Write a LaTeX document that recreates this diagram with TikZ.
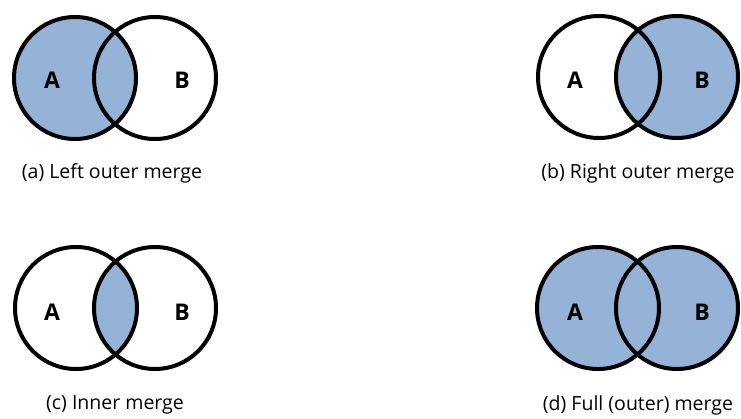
\documentclass[tikz,border=0pt]{standalone}
\usepackage{fontspec}
\setmainfont{Open Sans}
\definecolor{setfill}{HTML}{95B3D7}
\tikzset{
  setline/.style={line width=4pt, draw=black},
  setlabel/.style={font=\fontsize{23}{26}\selectfont\bfseries, inner sep=0pt},
  caption/.style={font=\fontsize{19.5}{23}\selectfont, inner sep=0pt}
}
\begin{document}
\begin{tikzpicture}[x=1pt, y=-1pt]
\useasboundingbox (0,0) rectangle (741,418);
\def\rr{61}

% (a) left outer merge
\fill[setfill] (75,78) circle (\rr);
\draw[setline] (75,78) circle (\rr);
\draw[setline] (155,78) circle (\rr);
\node[setlabel] (a1) at (52,80) {A};
\node[setlabel] (b1) at (182,80) {B};
\node[caption] (capa) at (112,173) {(a) Left outer merge};

% (b) right outer merge
\fill[setfill] (677,77) circle (\rr);
\draw[setline] (599,77) circle (\rr);
\draw[setline] (677,77) circle (\rr);
\node[setlabel] (a2) at (575,80) {A};
\node[setlabel] (b2) at (702,80) {B};
\node[caption] (capb) at (638,173) {(b) Right outer merge};

% (c) inner merge
\begin{scope}
  \clip (76,308) circle (\rr);
  \fill[setfill] (155,308) circle (\rr);
\end{scope}
\draw[setline] (76,308) circle (\rr);
\draw[setline] (155,308) circle (\rr);
\node[setlabel] (a3) at (52,312) {A};
\node[setlabel] (b3) at (182,312) {B};
\node[caption] (capc) at (115,405) {(c) Inner merge};

% (d) full outer merge
\fill[setfill] (598,308) circle (\rr);
\fill[setfill] (677,308) circle (\rr);
\draw[setline] (598,308) circle (\rr);
\draw[setline] (677,308) circle (\rr);
\node[setlabel] (a4) at (575,312) {A};
\node[setlabel] (b4) at (702,312) {B};
\node[caption] (capd) at (638,405) {(d) Full (outer) merge};
\end{tikzpicture}
\end{document}
